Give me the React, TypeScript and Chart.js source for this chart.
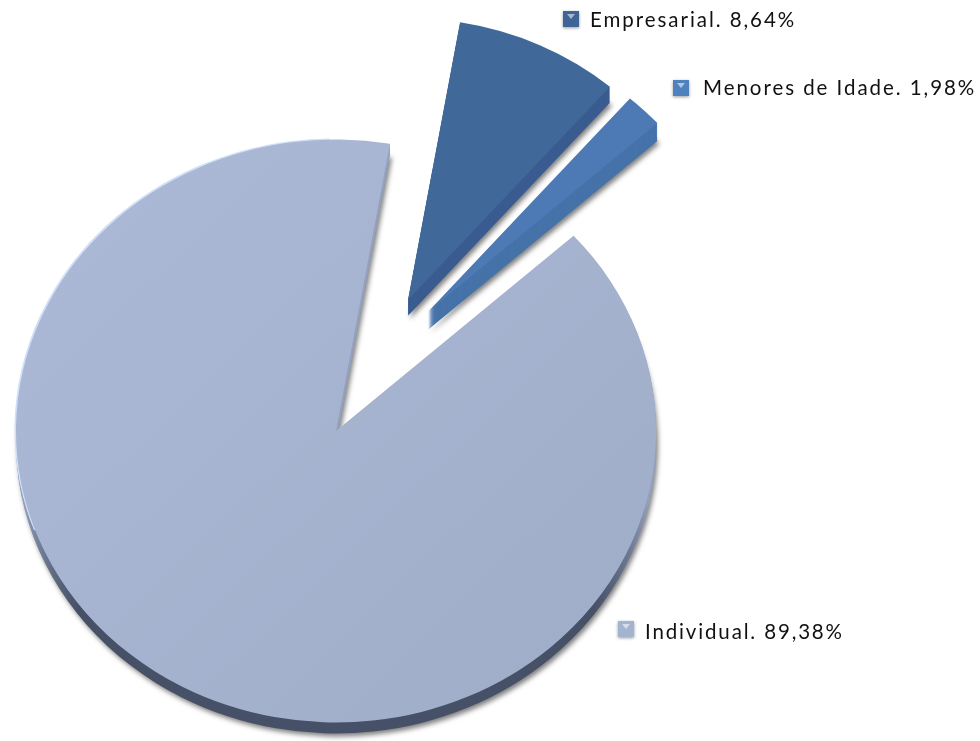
import React, { useEffect, useRef } from "react";
import { Chart, registerables } from "chart.js";

Chart.register(...registerables);

const categories = ["Empresarial", "Menores de Idade", "Individual"];
const shares = [8.64, 1.98, 89.38];
const valueLabels = ["8,64%", "1,98%", "89,38%"];

const topColors = ["#40699a", "#4d7ab4", "#a6b4cf"];
const rimColors = ["#3a5b8f", "#4572a8", "#465066"];
const markerColors = ["#3e6596", "#4f81bd", "#a4b3cf"];

const TILT = 0.911;
const rimDepths = [16, 18, 11];
const explode = [[72, -144], [92, -131], [0, 0]];
const radii = [309, 309, 320];
const labelSpots = [
  { mx: 563, my: 11, tx: 590, ty: 27, spacing: 1.95 },
  { mx: 673, my: 80, tx: 703, ty: 95, spacing: 1.95 },
  { mx: 618, my: 621, tx: 645, ty: 639, spacing: 1.85 },
];

const tiltPlugin = {
  id: "tilt",
  afterDatasetsUpdate(chart: any) {
    const meta = chart.getDatasetMeta(0);
    meta.data.forEach((el: any, i: number) => {
      el.x += explode[i][0];
      el.y += explode[i][1];
      el.outerRadius = radii[i];
    });
  },
  beforeDatasetsDraw(chart: any) {
    const { ctx, chartArea } = chart;
    const cy = (chartArea.top + chartArea.bottom) / 2;
    ctx.save();
    ctx.translate(0, cy);
    ctx.scale(1, TILT);
    ctx.translate(0, -cy);
    const meta = chart.getDatasetMeta(0);
    const indRim = ctx.createLinearGradient(0, 500, 0, 620);
    indRim.addColorStop(0, "#93a1bf");
    indRim.addColorStop(1, rimColors[2]);
    meta.data.forEach((el: any, i: number) => {
      const fill = el.options.backgroundColor;
      el.options.backgroundColor = i === 2 ? indRim : rimColors[i];
      const depth = rimDepths[i];
      // shadow under the deepest copy, then sweep up to the top face
      ctx.save();
      ctx.shadowColor = "rgba(0,0,0,0.5)";
      ctx.shadowBlur = 5;
      ctx.shadowOffsetX = 2;
      ctx.shadowOffsetY = 3;
      ctx.translate(0, depth / TILT);
      el.draw(ctx);
      ctx.restore();
      for (let k = depth - 1; k >= 1; k--) {
        ctx.save();
        ctx.translate(0, k / TILT);
        el.draw(ctx);
        ctx.restore();
      }
      if (i === 2) {
        // pale highlight along the upper-left rim only
        ctx.save();
        ctx.beginPath();
        ctx.rect(0, 0, 330, 540);
        ctx.clip();
        ctx.translate(-1.5, -1.2);
        el.options.backgroundColor = "#cfe0f7";
        el.draw(ctx);
        ctx.restore();
      }
      el.options.backgroundColor = fill;
    });
  },
  afterDatasetsDraw(chart: any) {
    chart.ctx.restore();
  },
  afterDraw(chart: any) {
    const { ctx } = chart;
    ctx.save();
    categories.forEach((name, i) => {
      const s = labelSpots[i];
      const size = 16;
      ctx.save();
      ctx.shadowColor = "rgba(0,0,0,0.4)";
      ctx.shadowBlur = 3;
      ctx.shadowOffsetY = 1;
      ctx.fillStyle = markerColors[i];
      ctx.fillRect(s.mx, s.my, size, size);
      ctx.restore();
      ctx.fillStyle = "rgba(255,255,255,0.55)";
      ctx.beginPath();
      ctx.moveTo(s.mx + 4, s.my + 3);
      ctx.lineTo(s.mx + size - 4, s.my + 3);
      ctx.lineTo(s.mx + size / 2, s.my + 8);
      ctx.closePath();
      ctx.fill();
      ctx.fillStyle = "#111111";
      ctx.font = "20.5px Lato";
      ctx.textBaseline = "alphabetic";
      (ctx as any).letterSpacing = s.spacing + "px";
      ctx.fillText(`${name}. ${valueLabels[i]}`, s.tx, s.ty);
    });
    ctx.restore();
  },
};

export default function App() {
  const ref = useRef<HTMLCanvasElement>(null);
  useEffect(() => {
    document.body.style.margin = "0";
    const canvas = ref.current!;
    const ctx = canvas.getContext("2d")!;
    const grad = ctx.createLinearGradient(60, 150, 640, 700);
    grad.addColorStop(0, "#abb9d7");
    grad.addColorStop(1, "#9fadc8");
    const chart = new Chart(canvas, {
      type: "pie",
      data: {
        labels: categories,
        datasets: [
          {
            data: shares,
            backgroundColor: [topColors[0], topColors[1], grad],
            borderWidth: 0,
            clip: false,
          } as any,
        ],
      },
      options: {
        responsive: false,
        animation: false,
        rotation: 9.7,
        radius: 320,
        layout: { padding: { left: 0, right: 308, top: 121, bottom: 0 } },
        plugins: { legend: { display: false }, tooltip: { enabled: false } },
      },
      plugins: [tiltPlugin],
    });
    return () => chart.destroy();
  }, []);
  return <canvas ref={ref} width={980} height={741} style={{ display: "block" }} />;
}
